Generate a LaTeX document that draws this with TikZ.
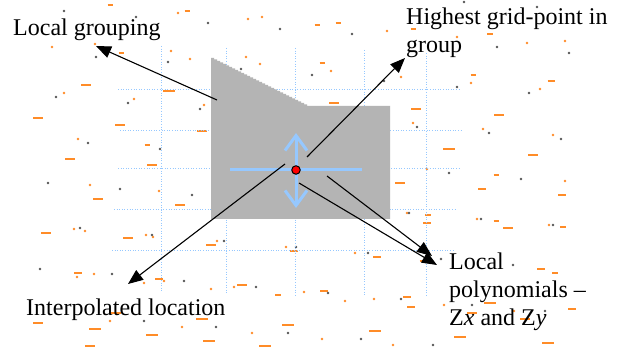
\documentclass[tikz,border=0pt]{standalone}
\usepackage{fontspec}
\setmainfont{Liberation Serif}
\newfontfamily\lblfont{Liberation Serif}
\usetikzlibrary{arrows.meta}
\definecolor{dashorange}{RGB}{255,140,40}
\definecolor{dotgrey}{RGB}{85,85,85}
\definecolor{regiongrey}{RGB}{180,180,180}
\definecolor{gridblue}{RGB}{150,200,255}
\definecolor{crossblue}{RGB}{150,200,255}
\tikzset{
  odash/.style={dashorange, line width=2.4pt},
  odot/.style={fill=dashorange},
  gdot/.style={fill=dotgrey},
  gridline/.style={gridblue, line width=0.8pt, dash pattern=on 1pt off 1.6pt},
  callout/.style={black, line width=1.1pt, -{Triangle[length=15pt,width=12pt]}},
  lbl/.style={anchor=base west, inner sep=0pt, font=\lblfont\fontsize{24}{28}\selectfont},
  crossline/.style={crossblue, line width=3pt},
}
\begin{document}
\begin{tikzpicture}[x=1pt,y=-1pt]
\useasboundingbox (0,0) rectangle (619,347);
\fill[white] (0,0) rectangle (619,347);
% scattered orange dashes
\foreach \x/\y/\l in {110/5/5,187/11/5,86/85/10,169/91/12,38/118/10,121/53/5,317/25/5,338/23/5,413/29/5,490/34/6,322/63/5,473/75/5,551/81/7,334/103/10,416/109/10,499/115/10,202/131/10,120/125/10,70/159/10,152/165/10,98/199/10,180/205/10,449/149/12,533/155/10,496/175/5,400/183/10,482/189/8,562/195/8,428/215/6,427/223/8,496/221/5,508/228/10,563/227/6,46/233/10,128/238/10,211/245/10,294/251/8,78/273/8,159/279/8,242/285/10,278/295/6,116/313/10,38/323/10,202/319/12,95/329/12,288/325/12,152/335/12,209/341/12,90/346/10,265/346/12,377/257/8,422/261/5,541/269/8,555/273/6,324/291/8,407/297/8,411/307/8,490/303/12,472/313/10,525/319/10,572/309/8,375/331/12,460/337/12,548/343/12,147/145/5}
  \draw[odash] ({\x-\l/2},\y) -- ({\x+\l/2},\y);
% scattered orange dots
\foreach \x/\y in {178/13,248/19,262/17,52/47,95/44,171/51,190/59,246/57,260/64,64/93,134/99,204/105,387/31,457/37,527/43,565/41,331/71,401/77,471/83,540/89,78/139,90/185,159/191,413/123,483/129,553/135,427/169,565/181,407/213,477/219,549/225,74/229,85/231,146/235,153/237,217/241,286/247,77/277,94/274,144/283,164/281,211/289,234/287,304/292,110/321,182/327,252/333,355/253,345/301,374/299,444/305,514/311,322/339,393/345}
  \fill[odot] (\x,\y) circle (1.3);
% scattered grey dots
\foreach \x/\y in {64/11,136/17,208/23,280/29,96/57,168/62,241/69,56/97,128/103,200/109,464/2,537/7,352/34,497/47,569/53,312/75,384/81,457/87,529/93,88/143,160/149,48/183,120/189,192/195,417/127,489/133,561/139,449/173,521/179,409/213,481/219,553/225,80/228,152/235,224/241,296/247,40/269,112/274,184/281,256/287,144/321,216/327,288/333,368/253,441/259,513/265,328/293,401/299,472/305,545/311,361/339,433/345}
  \fill[gdot] (\x,\y) circle (1.4);
% dotted grid
\foreach \yy/\xa/\xb in {89/118/460,130/120/462,168/118/461,209/114/457,250/112/455}
  \draw[gridline] (\xa,\yy) -- (\xb,\yy);
\foreach \xx/\ya/\yb in {161/46/293,226/48/295,295/48/296,364/50/296,426/53/295}
  \draw[gridline] (\xx,\ya) -- (\xx,\yb);
% local grouping region
\fill[regiongrey] (211,219) -- (211,58) \foreach \i in {1,...,32}{ -| ({211+3*\i},{58+1.5*\i}) } -- (390,106) -- (390,219) -- cycle;
% cross
\coordinate (cl) at (230,170);
\coordinate (cr) at (362,170);
\coordinate (ct) at (296,133);
\coordinate (cb) at (296,208);
\draw[crossline] (cl) -- (cr);
\draw[crossline, {Straight Barb[length=15pt,width=22pt]}-{Straight Barb[length=15pt,width=22pt]}] (ct) -- (cb);
\node[circle, fill=red, draw=black, line width=1pt, minimum size=8.5pt, inner sep=0pt] (pt) at (296,170) {};
% labels
\node[lbl] (lg) at (13,36) {Local grouping};
\node[lbl] (hg1) at (406,25) {Highest grid-point in};
\node[lbl] (hg2) at (406,53) {group};
\node[lbl] (il) at (26,316) {Interpolated location};
\node[lbl] (lp1) at (449,270) {Local};
\node[lbl] (lp2) at (449,298) {polynomials –};
\node[lbl] (lp3) at (449,326) {Z\textit{x} and Z\textit{y}};
% callout arrows
\coordinate (lgS) at (217,100);
\coordinate (lgT) at (96,46);
\coordinate (hgS) at (307,157);
\coordinate (hgT) at (405,58);
\coordinate (ilS) at (285,164);
\coordinate (ilT) at (128,284);
\coordinate (lpSa) at (299,183);
\coordinate (lpTa) at (437,265);
\coordinate (lpSb) at (327,176);
\coordinate (lpTb) at (432,256);
\draw[callout] (lgS) -- (lgT);
\draw[callout] (hgS) -- (hgT);
\draw[callout] (ilS) -- (ilT);
\draw[callout] (lpSa) -- (lpTa);
\draw[callout] (lpSb) -- (lpTb);
\end{tikzpicture}
\end{document}
